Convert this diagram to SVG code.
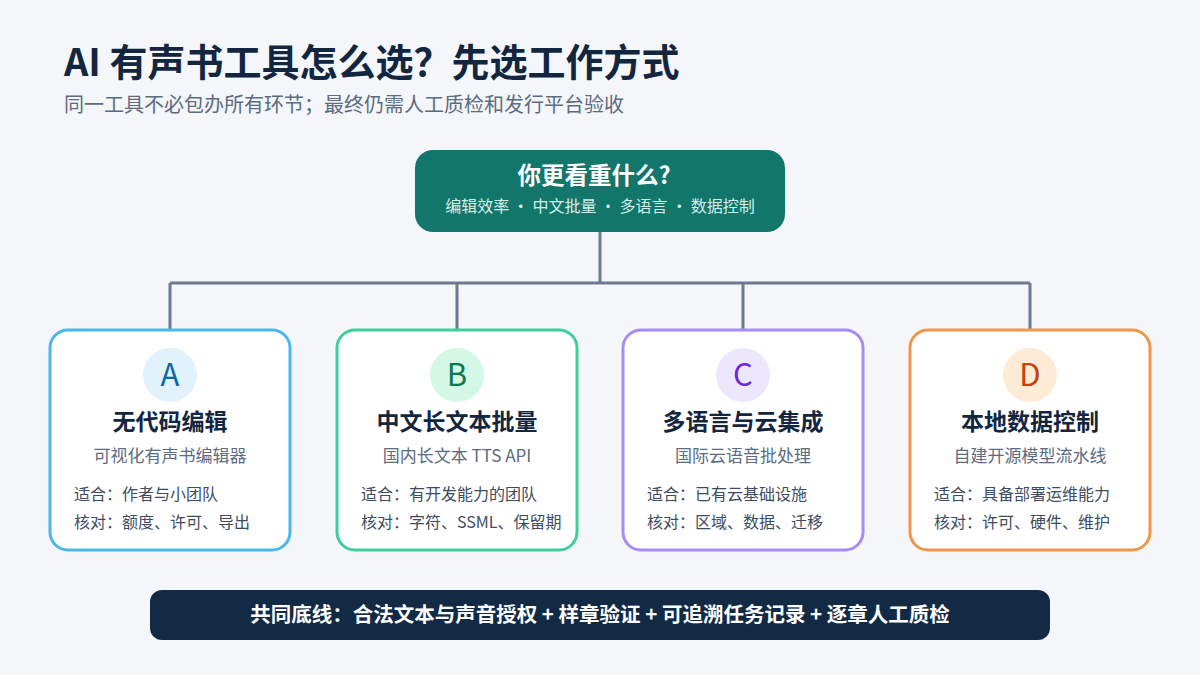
<svg xmlns="http://www.w3.org/2000/svg" width="1200" height="675" viewBox="0 0 1200 675">
<style>
text{font-family:"Noto Sans CJK SC","Noto Sans",sans-serif}
.title{font-size:38px;font-weight:700;fill:#13263f}
.sub{font-size:20px;fill:#5b6b80}
.card{fill:#ffffff;stroke-width:3}
.letter{font-size:31px;text-anchor:middle}
.ctitle{font-size:23px;font-weight:700;fill:#13263f;text-anchor:middle}
.csub{font-size:17px;fill:#5b6b80;text-anchor:middle}
.line{font-size:16px;fill:#3d4c60}
.conn{stroke:#6b7a90;stroke-width:3;fill:none}
</style>
<rect width="1200" height="675" fill="#f4f6fa"/>
<text class="title" x="64" y="76">AI 有声书工具怎么选？先选工作方式</text>
<text class="sub" x="64" y="112">同一工具不必包办所有环节；最终仍需人工质检和发行平台验收</text>
<g id="connectors">
<path class="conn" d="M600 232V283M170 283H1030M170 283V330M457 283V330M743 283V330M1030 283V330"/>
</g>
<g id="root">
<rect x="415" y="150" width="370" height="82" rx="18" fill="#12766b"/>
<text x="594" y="184" text-anchor="middle" font-size="23.5" font-weight="700" fill="#ffffff">你更看重什么?</text>
<text x="600" y="212" text-anchor="middle" font-size="16" fill="#d4efe8">编辑效率 · 中文批量 · 多语言 · 数据控制</text>
</g>
<g id="cardA">
<rect class="card" x="50" y="330" width="240" height="220" rx="18" stroke="#4bb8ec"/>
<circle cx="170" cy="375" r="27" fill="#e1f2fd"/>
<text class="letter" x="170" y="386" fill="#0b69a3">A</text>
<text class="ctitle" x="170" y="430">无代码编辑</text>
<text class="csub" x="170" y="462">可视化有声书编辑器</text>
<text class="line" x="74" y="500">适合：作者与小团队</text>
<text class="line" x="74" y="528">核对：额度、许可、导出</text>
</g>
<g id="cardB">
<rect class="card" x="337" y="330" width="240" height="220" rx="18" stroke="#3ecf9a"/>
<circle cx="457" cy="375" r="27" fill="#d5f7e6"/>
<text class="letter" x="457" y="386" fill="#0d7a4c">B</text>
<text class="ctitle" x="457" y="430">中文长文本批量</text>
<text class="csub" x="457" y="462">国内长文本 TTS API</text>
<text class="line" x="361" y="500">适合：有开发能力的团队</text>
<text class="line" x="361" y="528">核对：字符、SSML、保留期</text>
</g>
<g id="cardC">
<rect class="card" x="623" y="330" width="240" height="220" rx="18" stroke="#a78bfa"/>
<circle cx="743" cy="375" r="27" fill="#ede7fe"/>
<text class="letter" x="743" y="386" fill="#6d28d9">C</text>
<text class="ctitle" x="743" y="430">多语言与云集成</text>
<text class="csub" x="743" y="462">国际云语音批处理</text>
<text class="line" x="647" y="500">适合：已有云基础设施</text>
<text class="line" x="647" y="528">核对：区域、数据、迁移</text>
</g>
<g id="cardD">
<rect class="card" x="910" y="330" width="240" height="220" rx="18" stroke="#f0954a"/>
<circle cx="1030" cy="375" r="27" fill="#fdebd6"/>
<text class="letter" x="1030" y="386" fill="#c2410c">D</text>
<text class="ctitle" x="1030" y="430">本地数据控制</text>
<text class="csub" x="1030" y="462">自建开源模型流水线</text>
<text class="line" x="934" y="500">适合：具备部署运维能力</text>
<text class="line" x="934" y="528">核对：许可、硬件、维护</text>
</g>
<g id="baseline">
<rect x="150" y="590" width="900" height="50" rx="12" fill="#132a45"/>
<text x="600" y="622" text-anchor="middle" font-size="20.5" font-weight="700" fill="#ffffff">共同底线：合法文本与声音授权 + 样章验证 + 可追溯任务记录 + 逐章人工质检</text>
</g>
</svg>
